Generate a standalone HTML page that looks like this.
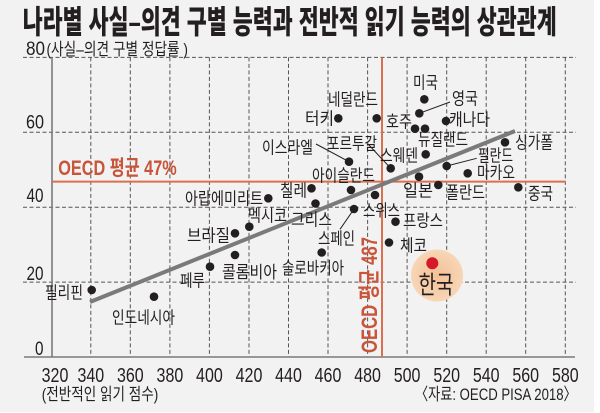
<!DOCTYPE html>
<html><head><meta charset="utf-8">
<style>
html,body{margin:0;padding:0;background:#fff;}
svg{display:block;}
text{font-family:"Liberation Sans","Noto Sans CJK KR",sans-serif;fill:#231f20;}
.lb{font-size:17px;}
.tk{font-size:20px;}
</style></head>
<body>
<svg width="600" height="413" viewBox="0 0 600 413" xmlns="http://www.w3.org/2000/svg">
<defs>
<radialGradient id="bub" cx="50%" cy="50%" r="50%">
<stop offset="0%" stop-color="#f4c096"/>
<stop offset="100%" stop-color="#f7d6b6"/>
</radialGradient>
</defs>
<rect x="0" y="0" width="600" height="413" fill="#ffffff"/>
<rect x="0" y="0" width="594" height="412" fill="#f2f2f2"/>

<!-- title -->
<text x="22.7" y="33" font-size="32" font-weight="900" textLength="534" lengthAdjust="spacingAndGlyphs" style="font-weight:900">나라별 사실–의견 구별 능력과 전반적 읽기 능력의 상관관계</text>

<!-- gridlines -->
<g stroke="#555" stroke-width="1" stroke-dasharray="4 2.5" fill="none">
<line x1="23" y1="57.4" x2="576" y2="57.4"/>
<line x1="23" y1="132.3" x2="576" y2="132.3"/>
<line x1="23" y1="207.2" x2="576" y2="207.2"/>
<line x1="23" y1="282.1" x2="576" y2="282.1"/>
<line x1="90.8" y1="57.4" x2="90.8" y2="357"/>
<line x1="130.3" y1="57.4" x2="130.3" y2="357"/>
<line x1="169.9" y1="57.4" x2="169.9" y2="357"/>
<line x1="209.4" y1="57.4" x2="209.4" y2="357"/>
<line x1="249" y1="57.4" x2="249" y2="357"/>
<line x1="288.5" y1="57.4" x2="288.5" y2="357"/>
<line x1="328" y1="57.4" x2="328" y2="357"/>
<line x1="367.6" y1="57.4" x2="367.6" y2="357"/>
<line x1="407.1" y1="57.4" x2="407.1" y2="357"/>
<line x1="446.7" y1="57.4" x2="446.7" y2="357"/>
<line x1="486.2" y1="57.4" x2="486.2" y2="357"/>
<line x1="525.7" y1="57.4" x2="525.7" y2="357"/>
<line x1="565.3" y1="57.4" x2="565.3" y2="357"/>
</g>

<!-- axes -->
<line x1="52" y1="57.4" x2="52" y2="357" stroke="#7a7a7a" stroke-width="1.6"/>
<line x1="24" y1="357" x2="575" y2="357" stroke="#7a7a7a" stroke-width="1.6"/>

<!-- OECD lines -->
<line x1="52" y1="181.6" x2="565.5" y2="181.6" stroke="#d9704f" stroke-width="2"/>
<line x1="382" y1="57.4" x2="382" y2="357" stroke="#d9704f" stroke-width="2"/>

<!-- Korea bubble -->
<circle cx="437" cy="275.5" r="26" fill="url(#bub)"/>

<!-- regression line -->
<line x1="90" y1="302" x2="515" y2="131" stroke="#7a7a7a" stroke-width="4"/>

<!-- leader lines -->
<g stroke="#231f20" stroke-width="1" fill="none">
<line x1="419.3" y1="113.3" x2="450" y2="102"/>
<line x1="316" y1="144" x2="349" y2="161.7"/>
<line x1="368" y1="144" x2="390.7" y2="168.3"/>
<line x1="446.7" y1="166" x2="476.7" y2="158.3"/>
<line x1="354" y1="209" x2="340" y2="229.3"/>
</g>

<!-- dots -->
<g fill="#231f20">
<circle cx="338.3" cy="118.3" r="4.3"/>
<circle cx="376.7" cy="118.3" r="4.3"/>
<circle cx="424.3" cy="99.3" r="4.3"/>
<circle cx="419.3" cy="113.3" r="4.3"/>
<circle cx="415" cy="128.7" r="4.3"/>
<circle cx="425" cy="128.7" r="4.3"/>
<circle cx="446" cy="121" r="4.3"/>
<circle cx="425.7" cy="154.3" r="4.3"/>
<circle cx="505" cy="142.3" r="4.3"/>
<circle cx="349" cy="161.7" r="4.3"/>
<circle cx="390.7" cy="168.3" r="4.3"/>
<circle cx="419" cy="176.7" r="4.3"/>
<circle cx="446.7" cy="166" r="4.3"/>
<circle cx="467.7" cy="173.3" r="4.3"/>
<circle cx="438.3" cy="185" r="4.3"/>
<circle cx="518.3" cy="187.3" r="4.3"/>
<circle cx="351" cy="190" r="4.3"/>
<circle cx="375" cy="195" r="4.3"/>
<circle cx="311.5" cy="188.3" r="4.3"/>
<circle cx="315.5" cy="203.5" r="4.3"/>
<circle cx="354" cy="209" r="4.3"/>
<circle cx="395.5" cy="221.7" r="4.3"/>
<circle cx="389" cy="242.5" r="4.3"/>
<circle cx="321.7" cy="252.5" r="4.3"/>
<circle cx="268.3" cy="198.3" r="4.3"/>
<circle cx="249.3" cy="226.7" r="4.3"/>
<circle cx="235" cy="233.3" r="4.3"/>
<circle cx="235" cy="255" r="4.3"/>
<circle cx="210" cy="266.7" r="4.3"/>
<circle cx="91.7" cy="290" r="4.3"/>
<circle cx="154" cy="296.7" r="4.3"/>
</g>
<circle cx="432.3" cy="263.3" r="6" fill="#d7182a"/>

<!-- country labels -->
<g class="lb">
<text class="lb" x="305" y="124.5" textLength="29" lengthAdjust="spacingAndGlyphs">터키</text>
<text class="lb" x="328" y="105.5" textLength="50" lengthAdjust="spacingAndGlyphs">네덜란드</text>
<text class="lb" x="413" y="88.5" textLength="25" lengthAdjust="spacingAndGlyphs">미국</text>
<text class="lb" x="452" y="104.5" textLength="26" lengthAdjust="spacingAndGlyphs">영국</text>
<text class="lb" x="386" y="127.5" textLength="26" lengthAdjust="spacingAndGlyphs">호주</text>
<text class="lb" x="449" y="125.5" textLength="41" lengthAdjust="spacingAndGlyphs">캐나다</text>
<text class="lb" x="418" y="145.5" textLength="50" lengthAdjust="spacingAndGlyphs">뉴질랜드</text>
<text class="lb" x="515" y="148.5" textLength="38" lengthAdjust="spacingAndGlyphs">싱가폴</text>
<text class="lb" x="262" y="153.5" textLength="51" lengthAdjust="spacingAndGlyphs">이스라엘</text>
<text class="lb" x="327" y="149.5" textLength="50" lengthAdjust="spacingAndGlyphs">포르투갈</text>
<text class="lb" x="380" y="161.5" textLength="38" lengthAdjust="spacingAndGlyphs">스웨덴</text>
<text class="lb" x="478" y="161.5" textLength="35" lengthAdjust="spacingAndGlyphs">필란드</text>
<text class="lb" x="477" y="178.5" textLength="38" lengthAdjust="spacingAndGlyphs">마카오</text>
<text class="lb" x="403" y="196.5" textLength="30" lengthAdjust="spacingAndGlyphs">일본</text>
<text class="lb" x="446" y="198.5" textLength="39" lengthAdjust="spacingAndGlyphs">폴란드</text>
<text class="lb" x="528" y="199.5" textLength="25" lengthAdjust="spacingAndGlyphs">중국</text>
<text class="lb" x="312" y="181.5" textLength="63" lengthAdjust="spacingAndGlyphs">아이슬란드</text>
<text class="lb" x="280" y="196.5" textLength="27" lengthAdjust="spacingAndGlyphs">칠레</text>
<text class="lb" x="291" y="225.5" textLength="41" lengthAdjust="spacingAndGlyphs">그리스</text>
<text class="lb" x="363" y="216.5" textLength="37" lengthAdjust="spacingAndGlyphs">스위스</text>
<text class="lb" x="318" y="244.5" textLength="37" lengthAdjust="spacingAndGlyphs">스페인</text>
<text class="lb" x="403" y="226.5" textLength="40" lengthAdjust="spacingAndGlyphs">프랑스</text>
<text class="lb" x="400" y="251.5" textLength="27" lengthAdjust="spacingAndGlyphs">체코</text>
<text class="lb" x="282" y="274" textLength="62" lengthAdjust="spacingAndGlyphs">슬로바키아</text>
<text class="lb" x="185" y="204.5" textLength="78" lengthAdjust="spacingAndGlyphs">아랍에미리트</text>
<text class="lb" x="248" y="221.5" textLength="39" lengthAdjust="spacingAndGlyphs">멕시코</text>
<text class="lb" x="187" y="241.5" textLength="43" lengthAdjust="spacingAndGlyphs">브라질</text>
<text class="lb" x="222" y="278" textLength="55" lengthAdjust="spacingAndGlyphs">콜롬비아</text>
<text class="lb" x="180" y="286.5" textLength="25" lengthAdjust="spacingAndGlyphs">페루</text>
<text class="lb" x="45" y="298.5" textLength="38" lengthAdjust="spacingAndGlyphs">필리핀</text>
<text class="lb" x="112" y="323.5" textLength="63" lengthAdjust="spacingAndGlyphs">인도네시아</text>
</g>
<text x="418.5" y="293.5" font-size="25" textLength="35" lengthAdjust="spacingAndGlyphs">한국</text>

<!-- OECD labels -->
<text x="58.3" y="175" font-size="21" textLength="118.4" lengthAdjust="spacingAndGlyphs" style="fill:#c8553a;font-weight:bold">OECD 평균 47%</text>
<text transform="translate(377,353) rotate(-90)" font-size="22" textLength="116" lengthAdjust="spacingAndGlyphs" style="fill:#c8553a;font-weight:bold">OECD 평균 487</text>

<!-- y axis labels -->
<text x="26" y="55" font-size="19" textLength="19" lengthAdjust="spacingAndGlyphs">80</text>
<text x="46.5" y="55" font-size="17" textLength="141.5" lengthAdjust="spacingAndGlyphs">(사실–의견 구별 정답률 )</text>
<text x="26" y="128.5" font-size="19" textLength="18" lengthAdjust="spacingAndGlyphs">60</text>
<text x="26.5" y="201.8" font-size="19" textLength="17" lengthAdjust="spacingAndGlyphs">40</text>
<text x="26.5" y="280" font-size="19" textLength="17" lengthAdjust="spacingAndGlyphs">20</text>
<text x="35" y="355" font-size="19" textLength="8.5" lengthAdjust="spacingAndGlyphs">0</text>

<!-- x axis labels -->
<g font-size="20" text-anchor="middle">
<text x="55" y="382" textLength="26.7" lengthAdjust="spacingAndGlyphs" text-anchor="middle">320</text>
<text x="90.8" y="382" textLength="26.7" lengthAdjust="spacingAndGlyphs" text-anchor="middle">340</text>
<text x="130.3" y="382" textLength="26.7" lengthAdjust="spacingAndGlyphs" text-anchor="middle">360</text>
<text x="169.9" y="382" textLength="26.7" lengthAdjust="spacingAndGlyphs" text-anchor="middle">380</text>
<text x="209.4" y="382" textLength="26.7" lengthAdjust="spacingAndGlyphs" text-anchor="middle">400</text>
<text x="249" y="382" textLength="26.7" lengthAdjust="spacingAndGlyphs" text-anchor="middle">420</text>
<text x="288.5" y="382" textLength="26.7" lengthAdjust="spacingAndGlyphs" text-anchor="middle">440</text>
<text x="328" y="382" textLength="26.7" lengthAdjust="spacingAndGlyphs" text-anchor="middle">460</text>
<text x="367.6" y="382" textLength="26.7" lengthAdjust="spacingAndGlyphs" text-anchor="middle">480</text>
<text x="407.1" y="382" textLength="26.7" lengthAdjust="spacingAndGlyphs" text-anchor="middle">500</text>
<text x="446.7" y="382" textLength="26.7" lengthAdjust="spacingAndGlyphs" text-anchor="middle">520</text>
<text x="486.2" y="382" textLength="26.7" lengthAdjust="spacingAndGlyphs" text-anchor="middle">540</text>
<text x="525.7" y="382" textLength="26.7" lengthAdjust="spacingAndGlyphs" text-anchor="middle">560</text>
<text x="565.3" y="382" textLength="26.7" lengthAdjust="spacingAndGlyphs" text-anchor="middle">580</text>
</g>
<text x="41.7" y="400" font-size="17" textLength="116.6" lengthAdjust="spacingAndGlyphs">(전반적인 읽기 점수)</text>
<text x="415" y="400" font-size="17" textLength="161.7" lengthAdjust="spacingAndGlyphs">〈자료: OECD PISA 2018〉</text>
</svg>
</body></html>
